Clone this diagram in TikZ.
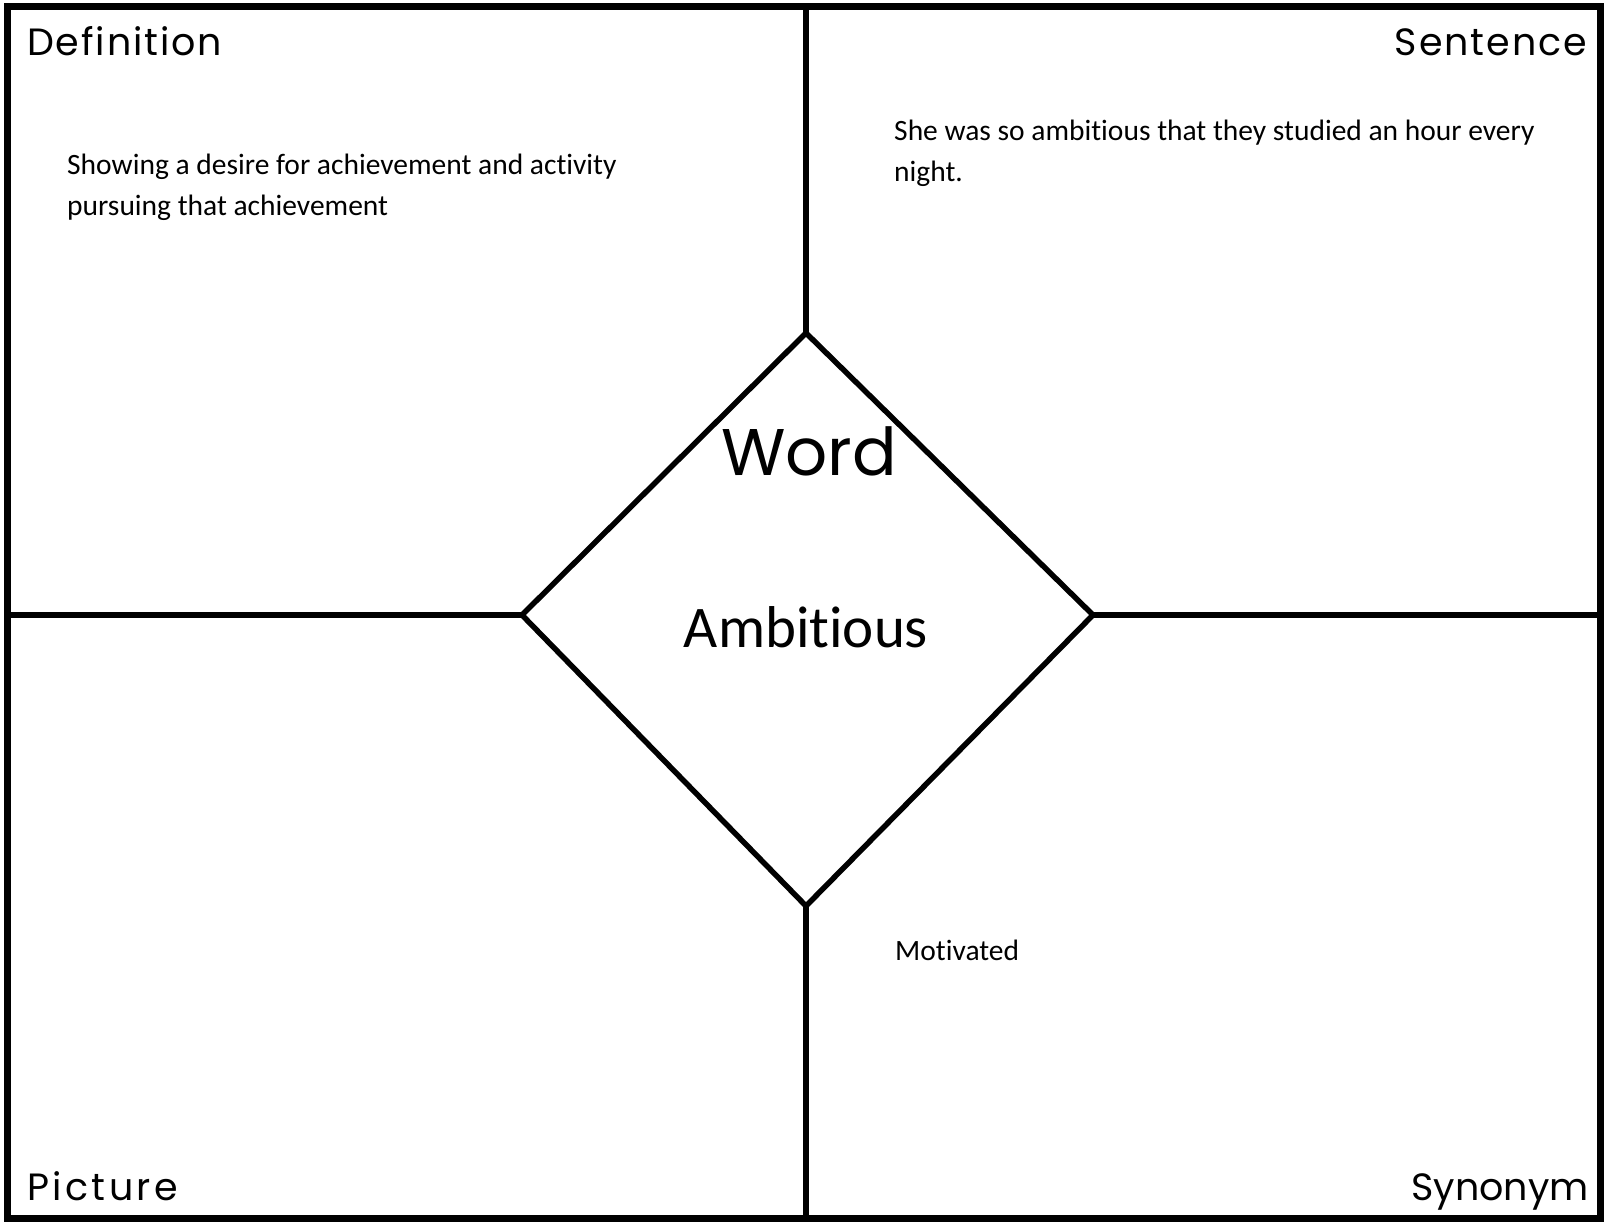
\documentclass[tikz,border=0pt]{standalone}
\usepackage{fontspec}
\setmainfont{Carlito}[Ligatures={NoCommon}]
\newfontfamily\headfont{Poppins}[LetterSpace=5]
\newfontfamily\headfontwide{Poppins}[LetterSpace=9]
\newfontfamily\wordfont{Poppins}
\begin{document}
\begin{tikzpicture}[x=1pt,y=-1pt,
  outer/.style={line width=7pt},
  inner/.style={line width=5.5pt},
  head/.style={font=\headfont\fontsize{38}{42}\selectfont, inner sep=0pt},
  body/.style={font=\fontsize{29.5}{41}\selectfont, inner sep=0pt, align=left}]
\useasboundingbox[fill=white] (0,0) rectangle (1606,1225);
% frame
\coordinate (tl) at (7.5,7);
\coordinate (br) at (1600,1218);
\draw[outer] (tl) rectangle (br);
% edge midpoints
\coordinate (topmid) at (806,7);
\coordinate (botmid) at (806,1218);
\coordinate (leftmid) at (7.5,615);
\coordinate (rightmid) at (1600,615);
% diamond vertices
\coordinate (dt) at (806,333);
\coordinate (dl) at (522,615);
\coordinate (dr) at (1093,615);
\coordinate (db) at (806,906);
\draw[inner, line join=miter] (dt) -- (dr) -- (db) -- (dl) -- cycle;
\draw[inner] (topmid) -- (dt);
\draw[inner] (db) -- (botmid);
\draw[inner] (leftmid) -- (dl);
\draw[inner] (dr) -- (rightmid);
% headings
\node[head, anchor=base west] (hdef) at (27,56) {Definition};
\node[head, anchor=base east] (hsen) at (1587,56) {Sentence};
\node[head, font=\headfontwide\fontsize{38}{42}\selectfont, anchor=base west] (hpic) at (27,1200) {Picture};
\node[head, font=\wordfont\fontsize{38}{42}\selectfont, anchor=base east] (hsyn) at (1589,1200) {Synonym};
\node[inner sep=0pt, font=\wordfont\fontsize{66}{70}\selectfont] (hword) at (809,451) {Word};
\node[inner sep=0pt, font=\fontsize{59}{64}\selectfont] (word) at (806,627) {Ambitious};
% texts
\node[body, anchor=base west] (def) at (67,215) {Showing a desire for achievement and activity\\pursuing that achievement};
\node[body, anchor=base west] (sen) at (894,182) {She was so ambitious that they studied an hour every\\night.};
\node[body, anchor=base west] (syn) at (895,960) {Motivated};
\end{tikzpicture}
\end{document}
